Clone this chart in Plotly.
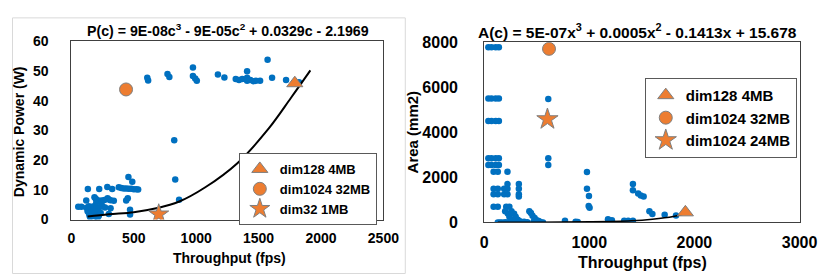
import plotly.graph_objects as go

# ---------------- data: left panel (Dynamic Power vs Throughput) ----------------
p_x = [608, 615, 770, 785, 974, 974, 992, 1005, 1174, 1226, 1317, 1343, 1369, 1408, 1408, 1408,
       1434, 1460, 1478, 1512, 1572, 1608, 1720, 1824,
       824, 832, 863,
       457, 488, 132, 223, 288, 327, 380, 400, 420, 440, 460, 480, 500, 520, 535,
       119, 185, 195, 210, 240, 265, 290, 300, 314, 340, 452, 439,
       55, 80, 120, 140, 160, 180, 200, 220, 250, 270,
       130, 140, 145, 150, 160, 165, 170, 180, 185, 190, 200, 210, 220, 235,
       314, 470, 470, 300, 210, 200, 240]
p_y = [47.7, 46.8, 49.0, 48.0, 51.2, 48.3, 47.5, 46.7, 48.8, 47.8, 47.3, 47.0, 47.3, 49.9, 47.7, 46.7,
       47.0, 46.6, 46.7, 46.7, 53.8, 47.7, 47.0, 46.2,
       26.7, 13.5, 6.7,
       14.3, 12.7, 10.3, 10.3, 11.0, 10.3, 10.9, 10.6, 10.5, 10.5, 10.4, 10.4, 10.2, 10.2, 10.1,
       6.4, 7.5, 7.0, 6.5, 6.4, 6.6, 7.2, 6.8, 6.5, 6.3, 7.2, 6.4,
       4.3, 4.3, 4.0, 4.5, 4.2, 4.5, 4.2, 4.0, 4.4, 4.1,
       2.8, 2.2, 1.5, 0.8, 2.5, 1.8, 1.2, 3.0, 2.0, 1.0, 2.6, 1.8, 1.3, 2.2,
       3.8, 3.3, 1.7, 1.9, 0.6, 5.8, 5.5]
p_trend_x = [130, 300, 500, 690, 860, 1070, 1330, 1580, 1760, 1915]
p_trend_y = [1.0, 1.8, 2.5, 3.9, 6.0, 10.8, 19.0, 30.6, 41.0, 50.2]
p_special_names = ["dim128 4MB", "dim1024 32MB", "dim32 1MB"]
p_special_x = [1790, 438, 700]
p_special_y = [45.9, 43.8, 1.8]

# ---------------- data: right panel (Area vs Throughput) ----------------
a_x = [40, 70, 110, 140, 40, 70, 110, 140, 40, 70, 110, 140, 40, 70, 110, 140, 40, 70, 110, 140,
       610, 610, 610,
       90, 130, 222, 222, 330,
       90, 130, 190, 222, 330, 90, 130, 190, 222, 330, 330,
       90, 130, 210, 240,
       200, 225, 240, 260, 290, 260, 285, 300, 320, 340, 430, 445, 460, 480, 500, 520,
       130, 150, 170, 200, 230, 260, 290, 320, 350, 380, 410, 470, 500, 540, 560,
       769, 870, 890, 978, 978, 997, 994, 1003, 1178, 1215, 1332, 1370, 1415, 1415, 1415,
       1465, 1490, 1517, 1572, 1600, 1717, 1825]
a_y = [7780, 7780, 7780, 7780, 5500, 5500, 5500, 5500, 4500, 4500, 4500, 4500,
       2850, 2850, 2850, 2850, 2550, 2550, 2550, 2550,
       5480, 2850, 2550,
       2250, 2250, 2250, 1700, 1700,
       1500, 1500, 1500, 1500, 1500, 1250, 1250, 1250, 1250, 1250, 1150,
       700, 700, 700, 700,
       500, 400, 250, 120, 50, 500, 380, 250, 120, 50, 500, 420, 300, 200, 100, 60,
       0, 0, 0, 10, 10, 0, 10, 0, 20, 30, 10, 30, 20, 10, 0,
       70, 30, 20, 2233, 1494, 1173, 725, 656, 138, 96, 70, 70, 70, 1704, 1424,
       1286, 1200, 1145, 490, 377, 335, 306]
a_trend_x = [130, 500, 1000, 1400, 1600, 1800, 1900]
a_trend_y = [5, 10, 25, 70, 140, 260, 370]
a_special_names = ["dim128 4MB", "dim1024 32MB", "dim1024 24MB"]
a_special_x = [1914, 617, 602]
a_special_y = [446, 7708, 4583]

p_title = "P(c) = 9E-08c<sup>3</sup> - 9E-05c<sup>2</sup> + 0.0329c - 2.1969"
a_title = "A(c) = 5E-07x<sup>3</sup> + 0.0005x<sup>2</sup> - 0.1413x + 15.678"

# ---------------- styling ----------------
W, H = 830, 275
BLUE = "#0070C0"
ORANGE = "#ED7D31"
FONT = "Liberation Sans"
symbols = ["triangle-up", "circle", "star"]
left_sizes = [14, 13, 15]
right_sizes = [14, 13, 16]

def px_x(p):
    return p / W

def px_y(p):
    return 1 - p / H

fig = go.Figure()

fig.add_trace(go.Scatter(x=p_x, y=p_y, mode="markers", xaxis="x", yaxis="y",
                         marker=dict(color=BLUE, size=6.5), showlegend=False))
fig.add_trace(go.Scatter(x=p_trend_x, y=p_trend_y, mode="lines", xaxis="x", yaxis="y",
                         line=dict(color="black", width=2, shape="spline"), showlegend=False))
for i in range(3):
    fig.add_trace(go.Scatter(x=[p_special_x[i]], y=[p_special_y[i]], mode="markers",
                             xaxis="x", yaxis="y", name=p_special_names[i], legend="legend",
                             marker=dict(color=ORANGE, size=left_sizes[i], symbol=symbols[i],
                                         line=dict(color="#7f7f7f", width=1))))

fig.add_trace(go.Scatter(x=a_x, y=a_y, mode="markers", xaxis="x2", yaxis="y2",
                         marker=dict(color=BLUE, size=6.5), showlegend=False))
fig.add_trace(go.Scatter(x=a_trend_x, y=a_trend_y, mode="lines", xaxis="x2", yaxis="y2",
                         line=dict(color="black", width=1.5, shape="spline"), showlegend=False))
for i in range(3):
    fig.add_trace(go.Scatter(x=[a_special_x[i]], y=[a_special_y[i]], mode="markers",
                             xaxis="x2", yaxis="y2", name=a_special_names[i], legend="legend2",
                             marker=dict(color=ORANGE, size=right_sizes[i], symbol=symbols[i],
                                         line=dict(color="#7f7f7f", width=1))))

axis_common = dict(showgrid=False, zeroline=False, showline=True, mirror=True,
                   linecolor="#404040", linewidth=1, ticks="")

fig.update_layout(
    width=W, height=H,
    margin=dict(l=0, r=0, t=0, b=0),
    paper_bgcolor="white", plot_bgcolor="white",
    font=dict(family=FONT, color="black"),
    xaxis=dict(domain=[px_x(61), px_x(381.5)], range=[0, 2500], tickvals=[0, 500, 1000, 1500, 2000, 2500],
               tickfont=dict(size=14, weight="bold"), ticklabelstandoff=6, anchor="y", **axis_common),
    yaxis=dict(domain=[px_y(217), px_y(27)], range=[0, 60], tickvals=[0, 10, 20, 30, 40, 50, 60],
               tickfont=dict(size=14, weight="bold"), ticklabelstandoff=19, anchor="x", **axis_common),
    xaxis2=dict(domain=[px_x(485), px_x(809)], range=[0, 3000], tickvals=[0, 1000, 2000, 3000],
                tickfont=dict(size=16, weight="bold"), ticklabelstandoff=5, anchor="y2", **axis_common),
    yaxis2=dict(domain=[px_y(220), px_y(28)], range=[0, 8000], tickvals=[0, 2000, 4000, 6000, 8000],
                tickfont=dict(size=16, weight="bold"), ticklabelstandoff=22, anchor="x2", **axis_common),
    legend=dict(x=px_x(233), y=px_y(146), xanchor="left", yanchor="top",
                bordercolor="#595959", borderwidth=1, bgcolor="white",
                font=dict(size=13, weight="bold", family=FONT), itemsizing="trace",
                tracegroupgap=0),
    legend2=dict(x=px_x(650), y=px_y(66), xanchor="left", yanchor="top",
                 bordercolor="#595959", borderwidth=1, bgcolor="white",
                 font=dict(size=15, weight="bold", family=FONT), itemsizing="trace",
                 tracegroupgap=0),
    shapes=[dict(type="rect", xref="paper", yref="paper",
                 x0=px_x(0.5), x1=px_x(404), y0=px_y(274.5), y1=px_y(2),
                 line=dict(color="#d9d9d9", width=1))],
)

ann = [
    (p_title, 222, 15, 14.2, 0),
    (a_title, 643, 16, 15.5, 0),
    ("Throughput (fps)", 223, 258, 14, 0),
    ("Throughput (fps)", 648, 263, 16, 0),
    ("Dynamic Power (W)", 8, 123, 14, -90),
    ("Area (mm2)", 411, 124, 15, -90),
]
for text, x, y, size, ang in ann:
    fig.add_annotation(text=text, x=px_x(x), y=px_y(y), xref="paper", yref="paper",
                       showarrow=False, xanchor="center", yanchor="middle", textangle=ang,
                       font=dict(size=size, weight="bold", family=FONT, color="black"))

fig.write_html("out.html")
